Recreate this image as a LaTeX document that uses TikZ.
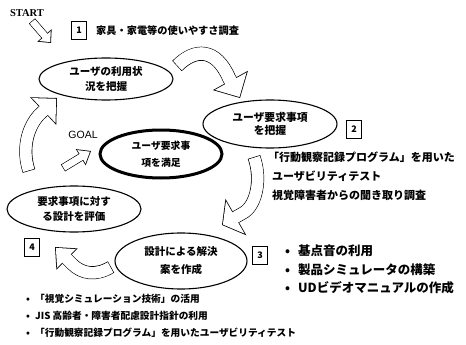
\documentclass[tikz,border=0pt]{standalone}
\usepackage{fontspec}
\setmainfont{Noto Sans CJK JP}
\newfontfamily\latinserif{Liberation Serif}
\newfontfamily\latinsans{Liberation Sans}
\usetikzlibrary{shapes.geometric,arrows.meta}

\newcommand\hollowarrow[4]{%
  \pgfmathsetmacro\haW{#1}%
  \pgfmathsetmacro\haL{#2}%
  \pgfmathsetmacro\haH{#3}%
  \pgfmathsetmacro\haA{atan(\haH/(2*\haL))}%
  \pgfmathsetmacro\haT{0.8/sin(\haA)}%
  \pgfmathsetmacro\haIL{\haL-\haT-0.8}%
  \pgfmathsetmacro\haIH{2*\haIL*tan(\haA)}%
  \pgfmathsetmacro\haIW{\haW-1.6}%
  \pgfmathsetmacro\haS{\haL-1.2}%
  \draw[line width=\haW pt,black,-{Triangle[line width=0pt,length=\haL pt,width=\haH pt]}] #4;
  \draw[line width=\haIW pt,white,shorten <=0.8pt,shorten >=\haT pt,-{Triangle[line width=0pt,length=\haIL pt,width=\haIH pt]}] #4;
  \draw[line width=\haIW pt,white,shorten <=0.8pt,shorten >=\haS pt] #4;
}

\tikzset{
  ell/.style={ellipse, draw, line width=1.1pt, inner sep=0pt, align=center,
    font=\bfseries\fontsize{10.5}{15}\selectfont},
  numbox/.style={draw, line width=0.9pt, minimum width=15pt, minimum height=18pt,
    inner sep=0pt, font=\bfseries\fontsize{9}{9}\selectfont},
  lefttext/.style={anchor=west, inner sep=0pt, font=\bfseries\fontsize{#1}{#1}\selectfont},
}

\begin{document}
\begin{tikzpicture}[x=1pt,y=-1pt]
\useasboundingbox (0,0) rectangle (466,345);
\fill[white] (0,0) rectangle (466,345);

% START
\node[inner sep=0pt, font=\latinserif\bfseries\fontsize{10.5}{12}\selectfont] (start) at (27,13) {START};
\coordinate (s1) at (32,21);
\coordinate (s2) at (51,43);
\hollowarrow{8}{10}{19}{(s1) -- (s2)}

% title
\node[numbox] (b1) at (79,30) {1};
\node[lefttext=10.2] (t1) at (96,31) {家具・家電等の使いやすさ調査};

% arrows of the cycle
\coordinate (a1s) at (177,66);
\coordinate (a1m) at (229,78);
\coordinate (a1e) at (240,98);
\hollowarrow{14}{20}{40}{(a1s) .. controls (195,48) and (216,48) .. (a1m) -- (a1e)}

\coordinate (a2s) at (254,157);
\coordinate (a2m) at (243,213);
\coordinate (a2e) at (222,225);
\hollowarrow{13}{16}{42}{(a2s) .. controls (262,180) and (256,206) .. (a2m) -- (a2e)}

\coordinate (a3s) at (111,267);
\coordinate (a3m) at (72,264);
\coordinate (a3e) at (55,247);
\hollowarrow{13}{17}{30}{(a3s) .. controls (96,276) and (82,274) .. (a3m) -- (a3e)}

\coordinate (a4s) at (29,171);
\coordinate (a4m) at (39,115);
\coordinate (a4e) at (57,98);
\hollowarrow{13}{19}{38}{(a4s) .. controls (22,150) and (27,128) .. (a4m) -- (a4e)}

% GOAL
\node[inner sep=0pt, font=\latinsans\fontsize{10.5}{12}\selectfont] (goal) at (83,135) {GOAL};
\coordinate (g1) at (63,168);
\coordinate (g2) at (91,151);
\hollowarrow{8}{12}{19}{(g1) -- (g2)}

% ellipses
\node[ell, minimum width=134pt, minimum height=42pt] (e1) at (106,79) {ユーザの利用状\\況を把握};
\node[ell, minimum width=134pt, minimum height=48pt, font=\bfseries\fontsize{10.8}{13}\selectfont] (e2) at (270,124) {ユーザ要求事項\\を把握};
\node[ell, minimum width=122pt, minimum height=48pt, line width=3pt, font=\bfseries\fontsize{9.8}{17}\selectfont] (e0) at (161,154) {ユーザ要求事\\項を満足};
\node[ell, minimum width=134pt, minimum height=46pt] (e4) at (74,209) {要求事項に対す\\る設計を評価};
\node[ell, minimum width=132pt, minimum height=56pt, font=\bfseries\fontsize{10.5}{18}\selectfont] (e3) at (181,261) {設計による解決\\案を作成};

% step 2
\node[numbox] (b2) at (354,129) {2};
\node[lefttext=11] (t2a) at (268,157) {「行動観察記録プログラム」を用いた};
\node[lefttext=11] (t2b) at (272,176) {ユーザビリティテスト};
\node[lefttext=11] (t2c) at (272,195) {視覚障害者からの聞き取り調査};

% step 3
\node[numbox] (b3) at (260,255) {3};
\node[lefttext=12.5] (t3a) at (285,251) {\makebox[13pt][l]{•}基点音の利用};
\node[lefttext=12.5] (t3b) at (285,270) {\makebox[13pt][l]{•}製品シミュレータの構築};
\node[lefttext=12.5] (t3c) at (285,288) {\makebox[13pt][l]{•}UDビデオマニュアルの作成};

% step 4
\node[numbox] (b4) at (32,247) {4};
\node[lefttext=9.7] (t4a) at (26,299) {\makebox[9pt][l]{•}「視覚シミュレーション技術」の活用};
\node[lefttext=9.7] (t4b) at (26,316) {\makebox[9pt][l]{•}JIS 高齢者・障害者配慮設計指針の利用};
\node[lefttext=9.7] (t4c) at (26,333) {\makebox[9pt][l]{•}「行動観察記録プログラム」を用いたユーザビリティテスト};
\end{tikzpicture}
\end{document}
